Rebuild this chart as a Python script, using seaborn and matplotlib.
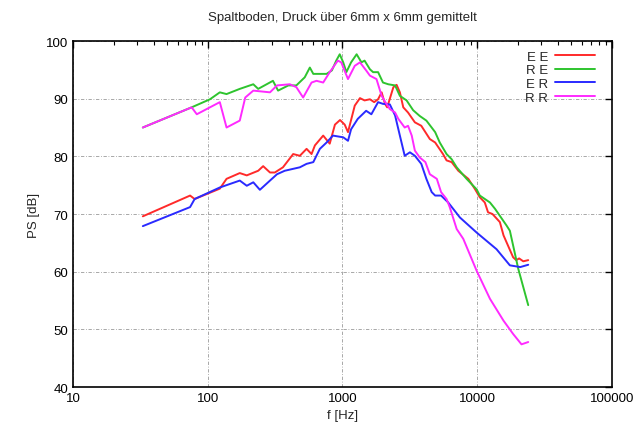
import numpy as np
import pandas as pd
import matplotlib
matplotlib.use("Agg")
import matplotlib.pyplot as plt
import seaborn as sns
from matplotlib.ticker import FixedLocator, FixedFormatter, LogLocator, NullFormatter

# ---- data ----
ee_f = [33, 74, 80, 123, 138, 173, 195, 237, 258, 290, 315, 362, 431, 483, 542, 590, 625, 720, 805, 880,
        960, 1040, 1100, 1235, 1350, 1460, 1600, 1720, 1840, 1955, 2070, 2150, 2390, 2525, 2670, 2830, 3070,
        3450, 3850, 4456, 4880, 5580, 5930, 6470, 7250, 8600, 9650, 10470, 11400, 12050, 13000, 14750, 15700,
        18500, 19500, 20500, 22000, 23950]
ee_db = [69.6, 73.2, 72.6, 74.4, 76.1, 77.1, 76.7, 77.5, 78.3, 77.2, 77.2, 78.1, 80.4, 80.1, 81.3, 80.4, 81.9, 83.6, 82.2, 85.5,
         86.3, 85.5, 84.2, 88.8, 90.1, 89.7, 89.9, 89.4, 89.9, 91.1, 89.1, 88.5, 92.0, 92.4, 91.1, 88.5, 87.6,
         85.9, 85.3, 83.0, 82.4, 80.4, 79.3, 79.0, 77.5, 76.1, 74.3, 72.9, 72.0, 70.3, 70.0, 68.6, 66.3,
         62.5, 62.0, 62.3, 61.8, 62.0]

re_f = [33, 76, 104, 123, 138, 173, 218, 237, 305, 333, 397, 455, 525, 573, 608, 720, 763, 835, 900, 955,
        1014, 1070, 1160, 1275, 1385, 1460, 1600, 1690, 1840, 2000, 2190, 2460, 2670, 2995, 3350, 3750, 4200,
        4880, 5280, 5930, 6470, 7050, 8350, 9900, 10470, 12450, 13580, 16540, 17500, 20200, 23950]
re_db = [85.0, 88.5, 89.9, 91.1, 90.8, 91.7, 92.5, 91.7, 93.1, 91.4, 92.3, 92.3, 93.7, 95.4, 94.3, 94.3, 94.3, 94.9, 96.6, 97.7,
         96.3, 94.6, 96.3, 97.7, 96.3, 96.6, 95.1, 94.6, 94.6, 92.8, 92.5, 92.3, 90.5, 89.7, 88.0, 87.0, 86.2,
         84.2, 82.4, 80.4, 79.5, 78.1, 76.1, 74.3, 73.2, 72.0, 70.9, 68.0, 67.1, 60.5, 54.2]

er_f = [33, 74, 80, 123, 173, 195, 218, 244, 290, 327, 373, 483, 542, 608, 680, 763, 850, 1014, 1100, 1160,
        1300, 1500, 1640, 1840, 2000, 2250, 2460, 2670, 2900, 3170, 3450, 3850, 4200, 4600, 4880, 5400, 6100,
        7450, 9900, 13930, 17500, 20900, 23950]
er_db = [67.9, 71.2, 72.6, 74.6, 75.8, 74.9, 75.5, 74.2, 75.8, 76.9, 77.5, 78.1, 78.7, 79.0, 81.3, 82.4, 83.6, 83.3, 82.7, 84.7,
         86.5, 87.9, 87.3, 89.4, 89.1, 89.0, 87.1, 83.6, 80.1, 80.7, 80.1, 78.7, 76.1, 73.8, 73.2, 73.2, 72.0,
         69.4, 66.8, 63.9, 61.1, 60.8, 61.2]

rr_f = [33, 76, 83, 123, 138, 173, 190, 218, 290, 327, 407, 455, 511, 590, 642, 720, 805, 925, 980, 1100,
        1235, 1350, 1500, 1600, 1790, 1955, 2070, 2250, 2460, 2600, 2900, 3070, 3270, 3450, 3750, 4130, 4456,
        5020, 5400, 5930, 6260, 7050, 7890, 9900, 12450, 15700, 18500, 21350, 23950]
rr_db = [85.0, 88.5, 87.3, 89.4, 85.0, 86.2, 90.2, 91.4, 91.1, 92.3, 92.5, 92.0, 90.2, 92.8, 93.1, 92.8, 94.6, 96.6, 96.3, 93.4,
         95.7, 96.3, 94.9, 94.0, 93.4, 90.5, 89.5, 88.2, 87.6, 86.5, 85.0, 85.3, 83.6, 81.0, 79.8, 79.0, 76.9,
         76.1, 73.8, 72.6, 71.2, 67.4, 65.7, 60.2, 55.3, 51.5, 49.2, 47.4, 47.8]

labels = ["E E", "R E", "E R", "R R"]
colors = ["#ff2a2a", "#2ec42e", "#2a2aff", "#ff2aff"]
series = [(ee_f, ee_db), (re_f, re_db), (er_f, er_db), (rr_f, rr_db)]

x_ticks = [10, 100, 1000, 10000, 100000]
x_ticklabels = ["10", "100", "1000", "10000", "100000"]
y_ticks = [40, 50, 60, 70, 80, 90, 100]

sns.set_style("white")
plt.rcParams['font.family'] = ['Liberation Sans', 'DejaVu Sans']

fig = plt.figure(figsize=(6.38, 4.27), dpi=100)
ax = fig.add_axes([0.1144, 0.0913, 0.8446, 0.8103])

for (f, d), lab, c in zip(series, labels, colors):
    sns.lineplot(x=f, y=d, ax=ax, color=c, label=lab, linewidth=1.4, sort=False)

ax.set_xscale("log")
ax.set_xlim(10, 100000)
ax.set_ylim(40, 100)
ax.xaxis.set_major_locator(FixedLocator(x_ticks))
ax.xaxis.set_major_formatter(FixedFormatter(x_ticklabels))
ax.xaxis.set_minor_locator(LogLocator(base=10, subs=np.arange(2, 10)))
ax.xaxis.set_minor_formatter(NullFormatter())
ax.set_yticks(y_ticks)

ax.tick_params(axis="both", which="both", direction="in", top=True, right=True, labelsize=9.5, colors="black")
ax.tick_params(which="major", length=5, width=1)
ax.tick_params(which="minor", length=3, width=0.8)
for s in ax.spines.values():
    s.set_color("black")
    s.set_linewidth(1.2)

ax.grid(True, which="major", color="#9a9a9a", linestyle=(0, (4, 2, 1, 2)), linewidth=0.6)

ax.set_xlabel("f [Hz]", fontsize=9.5)
ax.set_ylabel("PS [dB]", fontsize=9.5)
ax.set_title("Spaltboden, Druck über 6mm x 6mm gemittelt", fontsize=9.5, pad=15)

leg = ax.legend(loc="upper right", bbox_to_anchor=(0.9685, 0.972), frameon=False, markerfirst=False,
                fontsize=9.5, handlelength=3.0, labelspacing=0.1, borderaxespad=0.0, borderpad=0.0,
                handletextpad=0.55)

fig.savefig("out.png", dpi=100)
